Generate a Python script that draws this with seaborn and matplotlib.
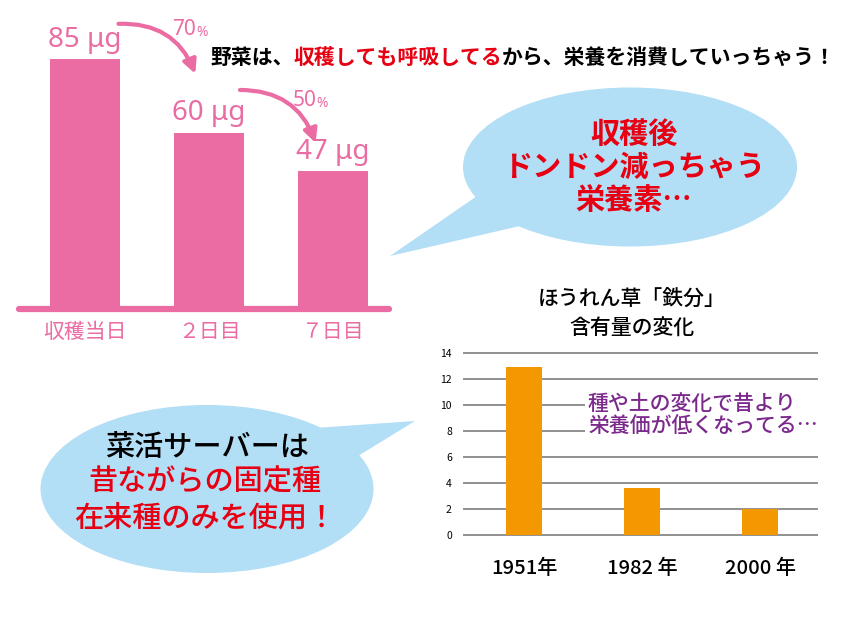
import numpy as np
import pandas as pd
import seaborn as sns
import matplotlib.pyplot as plt
from matplotlib.patches import Ellipse, Polygon

# 左のグラフ: 収穫後の栄養素
harvest_days = ["収穫当日", "２日目", "７日目"]
nutrient_ug = [85, 60, 47]
drop_pct = [70, 50]

# 右のグラフ: ほうれん草の鉄分
spinach_years = ["1951年", "1982 年", "2000 年"]
iron_mg = [12.9, 3.6, 2.0]
iron_ticks = [0, 2, 4, 6, 8, 10, 12, 14]

PINK = "#ea6ca3"
RED = "#e60012"
ORANGE = "#f39800"
PURPLE = "#7b2a8c"
BUBBLE = "#b2def6"

W, H = 843, 643

sns.set_theme(style="white")
plt.rcParams['font.family'] = ['Noto Sans CJK JP', 'DejaVu Sans']

fig = plt.figure(figsize=(W / 100, H / 100), dpi=100)


def box(left, top, right, bottom):
    # ピクセル -> figure座標
    return [left / W, 1 - bottom / H, (right - left) / W, (bottom - top) / H]


# ---- 左の棒グラフ ----
ax1 = fig.add_axes(box(19, 15, 389, 309))
df_left = pd.DataFrame({"day": harvest_days, "amount": nutrient_ug})
sns.barplot(data=df_left, x="day", y="amount", color=PINK, saturation=1,
            width=0.565, linewidth=0, ax=ax1)
ax1.set_xlim(-0.532, 2.452)
ax1.set_ylim(0, 100)
ax1.axhline(0, color=PINK, lw=4.5, clip_on=False, zorder=3)
sns.despine(ax=ax1, left=True, bottom=True)
ax1.set_yticks([])
ax1.set_xlabel("")
ax1.set_ylabel("")
ax1.tick_params(axis="x", length=0, pad=9, labelsize=15, labelcolor=PINK)

num_font = ['Noto Sans', 'Noto Sans CJK JP']
for i, v in enumerate(nutrient_ug):
    ax1.text(i, v + 6.5, f"{v} μg", ha="center", va="center",
             fontsize=20, color=PINK, family=num_font)

# 減少の矢印
arrows = [((0.27, 97), (0.89, 80)), ((1.25, 74.5), (1.86, 56.5))]
pct_pos = [(0.80, 95), (1.77, 71)]
for (start, end), pct, pos in zip(arrows, drop_pct, pct_pos):
    ax1.annotate("", xy=end, xytext=start, annotation_clip=False,
                 arrowprops=dict(arrowstyle="-|>", color=PINK, lw=3,
                                 mutation_scale=20, shrinkA=0, shrinkB=0,
                                 connectionstyle="arc3,rad=-0.35"))
    t = ax1.text(pos[0], pos[1], f"{pct}", ha="center", va="center",
                 fontsize=15, color=PINK, family=num_font)
    ax1.annotate("%", xy=(1, 0), xycoords=t, ha="left", va="bottom",
                 fontsize=10, color=PINK, family=num_font)

# ---- 右の棒グラフ ----
ax2 = fig.add_axes(box(463, 353 - 0.2 * 13, 818, 535 + 0.1 * 13))
df_right = pd.DataFrame({"year": spinach_years, "iron": iron_mg})
sns.barplot(data=df_right, x="year", y="iron", color=ORANGE, saturation=1,
            width=0.305, linewidth=0, ax=ax2, zorder=3)
ax2.set_xlim(-0.517, 2.49)
ax2.set_ylim(-0.1, 14.2)
ax2.set_yticks(iron_ticks)
ax2.yaxis.grid(True, color="#888888", lw=1.3)
ax2.set_axisbelow(True)
sns.despine(ax=ax2, left=True, bottom=True)
ax2.set_xlabel("")
ax2.set_ylabel("")
ax2.tick_params(axis="y", length=0, pad=8, labelsize=7.5, labelcolor="black")
ax2.tick_params(axis="x", length=0, pad=16, labelsize=14.5, labelcolor="black")
for lab in ax2.get_xticklabels():
    lab.set_fontweight("medium")

# ---- 重ね描き (吹き出し・見出し) ----
ov = fig.add_axes([0, 0, 1, 1], zorder=5)
ov.set_xlim(0, W)
ov.set_ylim(H, 0)
ov.axis("off")

# 上の見出し (色分け)
parts = [("野菜は、", "black"), ("収穫しても呼吸してる", RED),
         ("から、栄養を消費していっちゃう！", "black")]
prev = None
for txt, col in parts:
    if prev is None:
        prev = ov.text(210, 57, txt, ha="left", va="center", fontsize=15,
                       fontweight="bold", color=col)
    else:
        prev = ov.annotate(txt, xy=(1, 0), xycoords=prev, ha="left",
                           va="bottom", fontsize=15, fontweight="bold", color=col)

# 吹き出し1
ov.add_patch(Ellipse((630, 167), 334, 159, color=BUBBLE, lw=0))
ov.add_patch(Polygon([(477, 196), (390, 256), (520, 226)], closed=True,
                     color=BUBBLE, lw=0))
ov.text(634, 167, "収穫後\nドンドン減っちゃう\n栄養素…", ha="center", va="center",
        fontsize=21, fontweight="bold", color=RED, linespacing=1.14)

# 吹き出し2
ov.add_patch(Ellipse((207, 489), 333, 168, color=BUBBLE, lw=0))
ov.add_patch(Polygon([(315, 428), (415, 421), (358, 456)], closed=True,
                     color=BUBBLE, lw=0))
ov.text(207, 447, "菜活サーバーは", ha="center", va="center", fontsize=21,
        fontweight="medium", color="black")
ov.text(205, 482, "昔ながらの固定種", ha="center", va="center", fontsize=21,
        fontweight="medium", color=RED)
ov.text(205, 518, "在来種のみを使用！", ha="center", va="center", fontsize=21,
        fontweight="medium", color=RED)

# 右グラフのタイトルと注記
ov.text(632, 314, "ほうれん草「鉄分」\n含有量の変化", ha="center", va="center",
        fontsize=15, fontweight="medium", color="black", linespacing=1.5)
ov.text(588, 416, "種や土の変化で昔より\n栄養価が低くなってる…", ha="left",
        va="center", fontsize=15, fontweight="medium", color=PURPLE,
        linespacing=1.05,
        bbox=dict(facecolor="white", edgecolor="none", pad=2))

fig.savefig("out.png", dpi=100)
